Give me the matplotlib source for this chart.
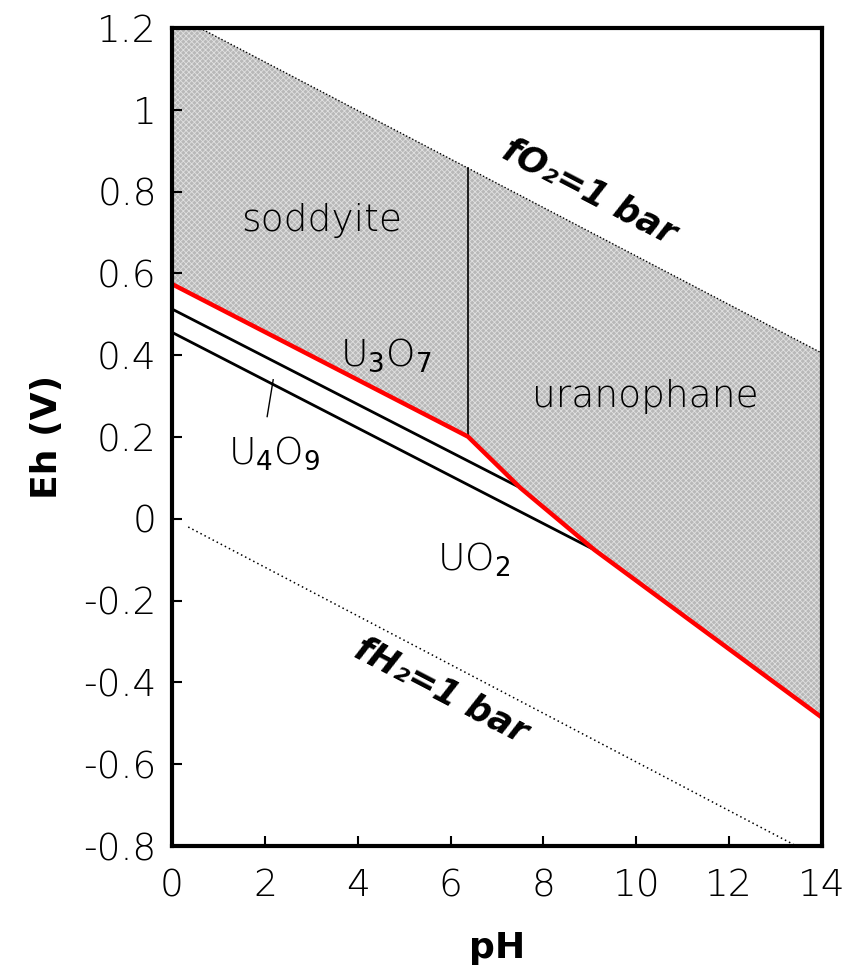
import matplotlib
matplotlib.use("Agg")
import matplotlib.pyplot as plt

# axis ticks
ph_ticks = [0, 2, 4, 6, 8, 10, 12, 14]
eh_ticks = [-0.8, -0.6, -0.4, -0.2, 0.0, 0.2, 0.4, 0.6, 0.8, 1.0, 1.2]
eh_labels = ["-0.8", "-0.6", "-0.4", "-0.2", "0", "0.2", "0.4", "0.6", "0.8", "1", "1.2"]

# water stability limits
fo2_ph = [0.6, 14.0]
fo2_eh = [1.2, 0.405]
fh2_ph = [0.35, 13.45]
fh2_eh = [-0.02, -0.8]

# red boundary (uranyl silicates vs reduced oxides)
red_ph = [0.0, 6.375, 7.5, 9.1, 14.0]
red_eh = [0.574, 0.201, 0.076, -0.076, -0.486]

# oxide boundaries
u3o7_ph = [0.0, 7.5]
u3o7_eh = [0.513, 0.076]
u4o9_ph = [0.0, 9.1]
u4o9_eh = [0.456, -0.076]

# soddyite / uranophane split
split_ph = [6.375, 6.375]
split_eh = [0.201, 0.857]

plt.rcParams['hatch.linewidth'] = 0.6
fig = plt.figure(figsize=(8.62, 9.73), dpi=100)
ax = fig.add_axes([0.1995, 0.1305, 0.7541, 0.8407])

poly_x = [0.0] + fo2_ph + red_ph[::-1]
poly_y = [1.2] + fo2_eh + red_eh[::-1]
ax.fill(poly_x, poly_y, facecolor='#b8b8b8', edgecolor='#e0e0e0', hatch='xxxxxx', linewidth=0, zorder=1)

ax.plot(fo2_ph, fo2_eh, color='black', lw=1.0, ls=(0, (1, 1.5)), zorder=3)
ax.plot(fh2_ph, fh2_eh, color='black', lw=1.1, ls=(0, (1, 2)), zorder=3)
ax.plot(u3o7_ph, u3o7_eh, color='black', lw=2.0, zorder=3)
ax.plot(u4o9_ph, u4o9_eh, color='black', lw=2.0, zorder=3)
ax.plot(split_ph, split_eh, color='black', lw=1.2, zorder=3)
ax.plot(red_ph, red_eh, color='#ff0000', lw=3.2, zorder=4, solid_joinstyle='miter')
# leader for U4O9
ax.plot([2.05, 2.18], [0.25, 0.34], color='black', lw=1.0, zorder=3)

tfont = dict(family='DejaVu Sans', fontweight='light')
ax.text(3.23, 0.73, "soddyite", fontsize=27, ha='center', va='center', zorder=5, **tfont)
ax.text(10.2, 0.30, "uranophane", fontsize=27, ha='center', va='center', zorder=5, **tfont)
ax.text(4.6, 0.40, r"U$_3$O$_7$", fontsize=27, ha='center', va='center', zorder=5, **tfont)
ax.text(2.2, 0.16, r"U$_4$O$_9$", fontsize=27, ha='center', va='center', zorder=5, **tfont)
ax.text(6.5, -0.10, r"UO$_2$", fontsize=27, ha='center', va='center', zorder=5, **tfont)

ax.text(9.0, 0.80, "fO\u2082=1 bar", fontsize=25, fontweight='bold', fontstyle='italic',
        rotation=-27.5, rotation_mode='anchor', ha='center', va='center', zorder=5)
ax.text(5.8, -0.42, "fH\u2082=1 bar", fontsize=25, fontweight='bold', fontstyle='italic',
        rotation=-27.5, rotation_mode='anchor', ha='center', va='center', zorder=5)

ax.set_xlim(0, 14)
ax.set_ylim(-0.8, 1.2)
ax.set_xticks(ph_ticks)
ax.set_xticklabels([str(t) for t in ph_ticks])
ax.set_yticks(eh_ticks)
ax.set_yticklabels(eh_labels)
ax.tick_params(direction='in', length=7, width=1.5, labelsize=27, top=False, right=False)
ax.tick_params(axis='y', pad=11)
ax.tick_params(axis='x', pad=16)
for lab in ax.get_xticklabels() + ax.get_yticklabels():
    lab.set_fontweight('light')
for s in ax.spines.values():
    s.set_linewidth(3)
    s.set_zorder(6)

ax.set_xlabel("pH", fontsize=26, fontweight='bold', labelpad=20)
ax.set_ylabel("Eh (V)", fontsize=26, fontweight='bold', labelpad=14)

fig.savefig("out.png", dpi=100)
